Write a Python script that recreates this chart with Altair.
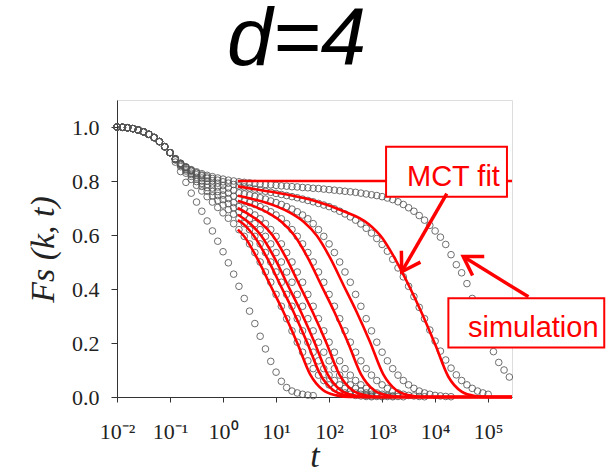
import altair as alt
import pandas as pd

# ---------------- data ----------------
# log10(t) sampling grid of the simulation points
LOGT_GRID = [-2.0, -1.9, -1.8, -1.7, -1.6, -1.5, -1.4, -1.3, -1.2, -1.1,
             -1.0, -0.9, -0.8, -0.7, -0.6, -0.5, -0.4, -0.3, -0.2, -0.1,
             0.0, 0.1, 0.2, 0.3, 0.4, 0.5, 0.6, 0.7, 0.8, 0.9,
             1.0, 1.1, 1.2, 1.3, 1.4, 1.5, 1.6, 1.7, 1.8, 1.9,
             2.0, 2.1, 2.2, 2.3, 2.4, 2.5, 2.6, 2.7, 2.8, 2.9,
             3.0, 3.1, 3.2, 3.3, 3.4, 3.5, 3.6, 3.7, 3.8, 3.9,
             4.0, 4.1, 4.2, 4.3, 4.4, 4.5, 4.6, 4.7, 4.8, 4.9,
             5.0, 5.1, 5.2, 5.3, 5.4]

# short-time part shared by all simulation curves (log t = -2.0 .. -1.0)
COMMON = [1.000, 0.999, 0.997, 0.994, 0.989, 0.982, 0.973, 0.961, 0.946, 0.927, 0.905]

# simulation curves from log t = -0.9 onwards
SIM_S0 = [0.87, 0.835, 0.795, 0.755, 0.722, 0.688, 0.652, 0.615, 0.577, 0.538, 0.497, 0.455, 0.41,
          0.365, 0.318, 0.272, 0.225, 0.178, 0.132, 0.092, 0.058, 0.035, 0.022, 0.015, 0.01, 0.007, 0.005]
SIM_S1 = [0.878, 0.853, 0.829, 0.806, 0.784, 0.763, 0.742, 0.722, 0.702, 0.682, 0.662, 0.642, 0.62,
          0.595, 0.567, 0.535, 0.5, 0.463, 0.425, 0.38, 0.336, 0.29, 0.245, 0.203, 0.166, 0.134,
          0.105, 0.081, 0.061, 0.045, 0.032, 0.022, 0.015, 0.01, 0.006, 0.004, 0.002, 0.001]
SIM_S2 = [0.88, 0.858, 0.837, 0.817, 0.798, 0.78, 0.762, 0.745, 0.728, 0.711, 0.694, 0.677, 0.66,
          0.642, 0.62, 0.595, 0.567, 0.535, 0.5, 0.463, 0.425, 0.38, 0.336, 0.29, 0.245, 0.203,
          0.166, 0.134, 0.105, 0.081, 0.061, 0.045, 0.032, 0.022, 0.015, 0.01, 0.006, 0.004, 0.002, 0.001]
SIM_S3 = [0.881, 0.861, 0.842, 0.824, 0.807, 0.791, 0.776, 0.761, 0.746, 0.731, 0.716, 0.701, 0.686,
          0.674, 0.66, 0.642, 0.62, 0.595, 0.567, 0.535, 0.5, 0.463, 0.425, 0.38, 0.336, 0.29,
          0.245, 0.203, 0.166, 0.134, 0.105, 0.081, 0.061, 0.045, 0.032, 0.022, 0.015, 0.01,
          0.006, 0.004, 0.002, 0.001]
SIM_S4 = [0.882, 0.863, 0.845, 0.829, 0.814, 0.8, 0.787, 0.774, 0.761, 0.748, 0.735, 0.72, 0.705,
          0.696, 0.686, 0.674, 0.66, 0.642, 0.62, 0.595, 0.567, 0.535, 0.5, 0.463, 0.425, 0.38,
          0.336, 0.29, 0.245, 0.203, 0.166, 0.134, 0.105, 0.081, 0.061, 0.045, 0.032, 0.022,
          0.015, 0.01, 0.006, 0.004, 0.002, 0.001]
SIM_S5 = [0.882, 0.865, 0.85, 0.836, 0.823, 0.811, 0.8, 0.789, 0.778, 0.766, 0.755, 0.744, 0.733,
          0.726, 0.72, 0.713, 0.705, 0.696, 0.686, 0.674, 0.66, 0.642, 0.62, 0.595, 0.567, 0.535,
          0.5, 0.463, 0.425, 0.38, 0.336, 0.29, 0.245, 0.203, 0.166, 0.134, 0.105, 0.081, 0.061,
          0.045, 0.032, 0.022, 0.015, 0.01, 0.006, 0.004, 0.002, 0.001]
SIM_S6 = [0.882, 0.866, 0.852, 0.84, 0.829, 0.819, 0.81, 0.801, 0.792, 0.783, 0.774, 0.765, 0.756,
          0.752, 0.748, 0.743, 0.738, 0.733, 0.726, 0.72, 0.713, 0.705, 0.696, 0.686, 0.674, 0.66,
          0.642, 0.62, 0.595, 0.567, 0.535, 0.5, 0.463, 0.425, 0.38, 0.336, 0.29, 0.245, 0.203,
          0.166, 0.134, 0.105, 0.081, 0.061, 0.045, 0.032, 0.022, 0.015, 0.01, 0.006, 0.004,
          0.002, 0.001]
SIM_S7 = [0.882, 0.864, 0.85, 0.839, 0.83, 0.822, 0.815, 0.809, 0.803, 0.797, 0.792, 0.787, 0.782,
          0.778, 0.774, 0.77, 0.766, 0.762, 0.758, 0.754, 0.75, 0.746, 0.742, 0.738, 0.733, 0.728,
          0.723, 0.717, 0.711, 0.705, 0.697, 0.688, 0.678, 0.667, 0.655, 0.641, 0.625, 0.607,
          0.587, 0.565, 0.54, 0.51, 0.478, 0.445, 0.41, 0.372, 0.332, 0.29, 0.248, 0.207, 0.17,
          0.137, 0.107, 0.082, 0.061, 0.045, 0.032, 0.022, 0.015, 0.01]
SIM_S8 = [0.882, 0.865, 0.852, 0.842, 0.834, 0.827, 0.821, 0.816, 0.811, 0.807, 0.803, 0.8,
          0.797, 0.795, 0.793, 0.791, 0.789, 0.787, 0.786, 0.784, 0.782, 0.781,
          0.779, 0.778, 0.776, 0.775, 0.773, 0.772, 0.77, 0.768, 0.766, 0.764,
          0.762, 0.76, 0.758, 0.755, 0.752, 0.749, 0.746, 0.742, 0.737, 0.731,
          0.723, 0.713, 0.701, 0.688, 0.672, 0.655, 0.636, 0.615, 0.592, 0.565,
          0.527, 0.49, 0.46, 0.42, 0.365, 0.31, 0.26, 0.212, 0.168, 0.128, 0.1, 0.074]
SIM_TAILS = [SIM_S0, SIM_S1, SIM_S2, SIM_S3, SIM_S4, SIM_S5, SIM_S6, SIM_S7, SIM_S8]

# MCT fits: (log10 t, F) points
RED_LOGT = [
    [0.28, 5.45],
    [0.28, 0.39, 0.64, 0.89, 1.14, 1.39, 1.64, 1.89, 2.14, 2.39, 5.45],
    [0.28, 0.33, 0.58, 0.83, 1.08, 1.33, 1.58, 1.83, 2.08, 2.33, 2.58, 5.45],
    [0.28, 0.47, 0.72, 0.97, 1.22, 1.47, 1.72, 1.97, 2.22, 2.47, 2.72, 5.45],
    [0.28, 0.44, 0.69, 0.94, 1.19, 1.44, 1.69, 1.94, 2.19, 2.44, 2.69, 2.94, 5.45],
    [0.28, 0.35, 0.60, 0.85, 1.10, 1.35, 1.60, 1.85, 2.10, 2.35, 2.60, 2.85, 3.10, 3.35, 5.45],
    [0.28, 0.52, 0.77, 1.02, 1.27, 1.52, 1.77, 2.02, 2.27, 2.52, 2.77, 3.02, 3.27, 3.52, 3.77, 5.45],
    [0.28, 0.75, 1.25, 1.75, 2.25, 2.75, 3.0, 3.25, 3.5, 3.75, 4.0, 4.25, 4.5, 4.75, 5.0, 5.45],
]
RED_F = [
    [0.80, 0.80],
    [0.62, 0.597, 0.515, 0.415, 0.315, 0.205, 0.085, 0.025, 0.006, 0.0, 0.0],
    [0.655, 0.649, 0.597, 0.515, 0.415, 0.315, 0.205, 0.085, 0.025, 0.006, 0.0, 0.0],
    [0.675, 0.649, 0.597, 0.515, 0.415, 0.315, 0.205, 0.085, 0.025, 0.006, 0.0, 0.0],
    [0.70, 0.682, 0.649, 0.597, 0.515, 0.415, 0.315, 0.205, 0.085, 0.025, 0.006, 0.0, 0.0],
    [0.727, 0.722, 0.705, 0.682, 0.649, 0.597, 0.515, 0.415, 0.315, 0.205, 0.085, 0.025, 0.006, 0.0, 0.0],
    [0.745, 0.735, 0.722, 0.705, 0.682, 0.649, 0.597, 0.515, 0.415, 0.315, 0.205, 0.085, 0.025, 0.006, 0.0, 0.0],
    [0.78, 0.765, 0.748, 0.725, 0.69, 0.64, 0.59, 0.51, 0.415, 0.31, 0.195, 0.075, 0.02, 0.004, 0.0, 0.0],
]

X_TICK_EXP = [-2, -1, 0, 1, 2, 3, 4, 5]
X_TICK_LABELS = ["10⁻²", "10⁻¹", "10⁰", "10¹", "10²", "10³", "10⁴", "10⁵"]
X_DOMAIN_EXP = [-2.0, 5.45]
Y_TICKS = [0.0, 0.2, 0.4, 0.6, 0.8, 1.0]
Y_DOMAIN = [0.0, 1.1]

# annotations (in data coordinates: log10 t, F)
BOX_LABELS = ["MCT fit", "simulation"]
BOX_X1 = [3.075, 4.25]
BOX_X2 = [5.355, 7.19]
BOX_Y1 = [0.742, 0.183]
BOX_Y2 = [0.927, 0.366]
TEXT_X = [3.47, 4.62]
TEXT_Y = [0.781, 0.223]
ARROW_X_FROM = [4.22, 5.76]
ARROW_Y_FROM = [0.753, 0.371]
ARROW_X_TO = [3.37, 4.53]
ARROW_Y_TO = [0.464, 0.52]
ARROW_ANGLE = [121.0, 211.6]

RED = "#FF0000"

# ---------------- tables ----------------
sim_rows = []
for i, tail in enumerate(SIM_TAILS):
    vals = COMMON + tail
    for lt, f in zip(LOGT_GRID, vals):
        sim_rows.append({"curve": f"s{i}", "t": 10 ** lt, "F": f})
sim_df = pd.DataFrame(sim_rows)

red_rows = []
for i, (lts, fs) in enumerate(zip(RED_LOGT, RED_F)):
    for j, (lt, f) in enumerate(zip(lts, fs)):
        red_rows.append({"curve": f"r{i}", "order": j, "t": 10 ** lt, "F": f})
red_df = pd.DataFrame(red_rows)

ann_df = pd.DataFrame({
    "label": BOX_LABELS,
    "bx1": [10 ** v for v in BOX_X1], "bx2": [10 ** v for v in BOX_X2],
    "by1": BOX_Y1, "by2": BOX_Y2,
    "tx": [10 ** v for v in TEXT_X], "ty": TEXT_Y,
    "ax1": [10 ** v for v in ARROW_X_FROM], "ay1": ARROW_Y_FROM,
    "ax2": [10 ** v for v in ARROW_X_TO], "ay2": ARROW_Y_TO,
    "ang": ARROW_ANGLE,
})

# ---------------- scales & axes ----------------
label_expr = ""
for e, lab in zip(X_TICK_EXP[:-1], X_TICK_LABELS[:-1]):
    label_expr += f"datum.value < {10 ** (e + 0.5)} ? '{lab}' : "
label_expr += f"'{X_TICK_LABELS[-1]}'"

xscale = alt.Scale(type="log", domain=[10 ** X_DOMAIN_EXP[0], 10 ** X_DOMAIN_EXP[1]], nice=False)
yscale = alt.Scale(domain=Y_DOMAIN, nice=False, zero=False)

xaxis = alt.Axis(values=[10 ** e for e in X_TICK_EXP], labelExpr=label_expr, grid=False,
                 title="t", titleFont="Liberation Serif", titleFontStyle="italic",
                 titleFontWeight="normal", titleFontSize=34, titleColor="#222",
                 titleBaseline="alphabetic", titleY=69,
                 labelFont="Liberation Serif", labelFontSize=22, labelColor="#222",
                 labelPadding=19, tickSize=5, labelFlush=False, labelOverlap=False,
                 domainColor="#333", tickColor="#333")
yaxis = alt.Axis(values=Y_TICKS, format=".1f", grid=False,
                 title="Fs (k, t)", titleFont="Liberation Serif", titleFontStyle="italic",
                 titleFontWeight="normal", titleFontSize=34, titleColor="#222",
                 titleAngle=270, titleBaseline="alphabetic", titleAlign="center",
                 titleX=-64, titleY=149,
                 labelFont="Liberation Serif", labelFontSize=22, labelColor="#222",
                 labelPadding=12, tickSize=6, domainColor="#333", tickColor="#333")

X = lambda f: alt.X(f"{f}:Q", scale=xscale, axis=xaxis)
Y = lambda f: alt.Y(f"{f}:Q", scale=yscale, axis=yaxis)

# ---------------- layers ----------------
sim = alt.Chart(sim_df).mark_point(shape="circle", filled=False, size=44,
                                   stroke="#555555", strokeWidth=1, opacity=0.85).encode(
    x=X("t"), y=Y("F"), detail="curve:N")

red = alt.Chart(red_df).mark_line(color=RED, strokeWidth=2.6, interpolate="monotone").encode(
    x=X("t"), y=Y("F"), detail="curve:N", order="order:Q")

boxes = alt.Chart(ann_df).mark_rect(fill="white", stroke=RED, strokeWidth=2).encode(
    x=X("bx1"), x2="bx2:Q", y=Y("by1"), y2="by2:Q")

texts = alt.Chart(ann_df).mark_text(font="Liberation Sans", fontSize=29, color=RED,
                                    align="left", baseline="alphabetic").encode(
    x=X("tx"), y=Y("ty"), text="label:N")

shafts = alt.Chart(ann_df).mark_rule(color=RED, strokeWidth=3.5).encode(
    x=X("ax1"), x2="ax2:Q", y=Y("ay1"), y2="ay2:Q")

CHEVRON = "M -0.85 -0.53 L 0 0 L -0.85 0.53"
heads = alt.Chart(ann_df).mark_point(shape=CHEVRON, filled=False, stroke=RED, strokeWidth=3.5,
                                     size=1764, opacity=1).encode(
    x=X("ax2"), y=Y("ay2"), angle=alt.Angle("ang:Q", scale=None))

chart = alt.layer(sim, red, boxes, texts, shafts, heads).properties(
    width=395, height=297,
    padding={"left": 117, "top": 100, "right": 99, "bottom": 75},
    autosize=alt.AutoSizeParams(type="none"),
    title=alt.TitleParams(text="d=4", font="Liberation Sans", fontSize=82, fontStyle="italic",
                          fontWeight="normal", color="black", anchor="middle", frame="group",
                          baseline="alphabetic", offset=35, dx=-18, dy=82),
).configure_view(stroke="#777", strokeWidth=1).configure(background="white")

chart.save("out.html", embed_options={"renderer": "svg", "actions": False})
